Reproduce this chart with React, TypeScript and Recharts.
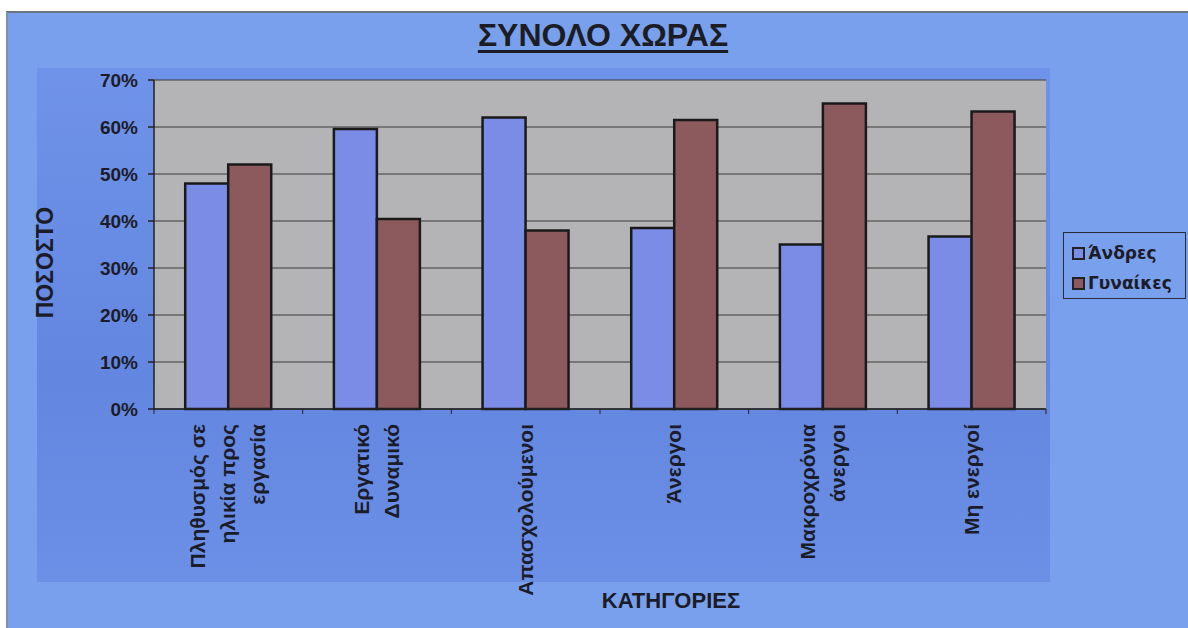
import React from "react";
import { BarChart, Bar, XAxis, YAxis, CartesianGrid, Legend } from "recharts";

const categories = [
  "Πληθυσμός σε\nηλικία προς\nεργασία",
  "Εργατικό\nΔυναμικό",
  "Απασχολούμενοι",
  "Άνεργοι",
  "Μακροχρόνια\nάνεργοι",
  "Μη ενεργοί",
];
const men = [48, 59.6, 62, 38.5, 35, 36.7];
const women = [52, 40.4, 38, 61.5, 65, 63.3];
const yTicks = [0, 10, 20, 30, 40, 50, 60, 70];
const seriesNames = ["Άνδρες", "Γυναίκες"];
const titleText = "ΣΥΝΟΛΟ ΧΩΡΑΣ";
const yTitle = "ΠΟΣΟΣΤΟ";
const xTitle = "ΚΑΤΗΓΟΡΙΕΣ";

const data = categories.map((c, i) => ({ cat: c, men: men[i], women: women[i] }));

const FONT = "'Liberation Sans', Arial, sans-serif";
const BLUE = "#7a8ce6";
const BROWN = "#8c5a5d";
const INK = "#1c1c28";

const XTick = (props: any) => {
  const { x, y, payload, index } = props;
  const lines = String(payload.value).split("\n");
  const n = lines.length;
  const lh = 30;
  const off = payload.offset || 0;
  return (
    <g>
      <line x1={x + off} x2={x + off} y1={y - 15} y2={y - 10} stroke="#222" strokeWidth={1} />
      {index === 0 && <line x1={x - off} x2={x - off} y1={y - 15} y2={y - 10} stroke="#222" strokeWidth={1} />}
      <text
        transform={`translate(${x},${y}) rotate(-90)`}
        textAnchor="end"
        fontSize={21}
        fontWeight="bold"
        fontFamily={FONT}
        fill={INK}
      >
        {lines.map((l, i) => (
          <tspan key={i} x={0} y={(i - (n - 1) / 2) * lh + 7}>
            {l}
          </tspan>
        ))}
      </text>
    </g>
  );
};

const renderLegend = (props: any) => {
  const { payload } = props;
  return (
    <div
      style={{
        border: "1.5px solid #2a2a33",
        width: 123,
        height: 67,
        boxSizing: "border-box",
        padding: "5px 0 0 8px",
        fontFamily: "'DejaVu Sans', Verdana, sans-serif",
        fontSize: 17,
        fontWeight: 600,
        color: INK,
      }}
    >
      {payload.map((p: any, i: number) => (
        <div key={i} style={{ display: "flex", alignItems: "center", height: 30 }}>
          <span
            style={{
              display: "inline-block",
              width: 9,
              height: 9,
              border: "2px solid #222",
              background: p.color,
              marginRight: 3,
            }}
          />
          <span>{p.value}</span>
        </div>
      ))}
    </div>
  );
};

export default function App() {
  return (
    <div style={{ position: "absolute", left: 0, top: 0, width: 1188, height: 628, background: "#ffffff", overflow: "hidden" }}>
      <div
        style={{
          position: "absolute",
          left: 6,
          top: 11,
          width: 1182,
          height: 617,
          background: "#79a0ec",
          borderTop: "2px solid #6a7380",
          borderLeft: "2px solid #8090a8",
        }}
      />
      <div
        style={{
          position: "absolute",
          left: 37,
          top: 68,
          width: 1013,
          height: 514,
          background: "linear-gradient(180deg, #6f93e8 0%, #6386e0 60%, #6b90e6 100%)",
        }}
      />
      <div
        style={{
          position: "absolute",
          left: 0,
          top: 17,
          width: 1206,
          textAlign: "center",
          fontFamily: FONT,
          fontWeight: "bold",
          fontSize: 32,
          color: "#1c1c24",
          textDecoration: "underline",
          textDecorationThickness: 3,
          textUnderlineOffset: 4,
        }}
      >
        {titleText}
      </div>
      <div style={{ position: "absolute", left: 0, top: 0 }}>
        <BarChart
          width={1188}
          height={628}
          data={data}
          margin={{ top: 80, right: 142, bottom: 0, left: 0 }}
          barGap={0}
          barCategoryGap="21%"
        >
          <CartesianGrid vertical={false} stroke="#3a3a3a" strokeWidth={1} fill="#b4b4b6" fillOpacity={1} />
          <XAxis
            dataKey="cat"
            height={219}
            interval={0}
            tickLine={false}
            tickSize={0}
            tickMargin={15}
            stroke="#222"
            strokeWidth={1.5}
            tick={<XTick />}
            label={{
              content: (p: any) => {
                const vb = p.viewBox;
                return (
                  <text
                    x={vb.x + vb.width / 2 + 71}
                    y={vb.y + 199}
                    textAnchor="middle"
                    fontSize={22}
                    fontWeight="bold"
                    fontFamily={FONT}
                    fill={INK}
                  >
                    {xTitle}
                  </text>
                );
              },
            }}
          />
          <YAxis
            width={154}
            domain={[0, 70]}
            ticks={yTicks}
            tickFormatter={(v: number) => `${v}%`}
            tickSize={6}
            tickMargin={10}
            stroke="#222"
            strokeWidth={1.5}
            tick={{ fontSize: 19, fontWeight: "bold", fontFamily: FONT, fill: INK }}
            label={{
              content: (p: any) => {
                const vb = p.viewBox;
                const cx = vb.x + 45;
                const cy = vb.y + vb.height / 2 + 18;
                return (
                  <text
                    transform={`translate(${cx},${cy}) rotate(-90)`}
                    textAnchor="middle"
                    dy={8}
                    fontSize={23}
                    fontWeight="bold"
                    fontFamily={FONT}
                    fill={INK}
                  >
                    {yTitle}
                  </text>
                );
              },
            }}
          />
          <Legend
            content={renderLegend}
            layout="vertical"
            align="center"
            verticalAlign="middle"
            wrapperStyle={{ position: "absolute", left: 1063, top: 232, width: 123, height: 67 }}
          />
          <Bar dataKey="men" name={seriesNames[0]} fill={BLUE} stroke="#1a1a1a" strokeWidth={2.5} isAnimationActive={false} />
          <Bar dataKey="women" name={seriesNames[1]} fill={BROWN} stroke="#1a1a1a" strokeWidth={2.5} isAnimationActive={false} />
        </BarChart>
      </div>
    </div>
  );
}
